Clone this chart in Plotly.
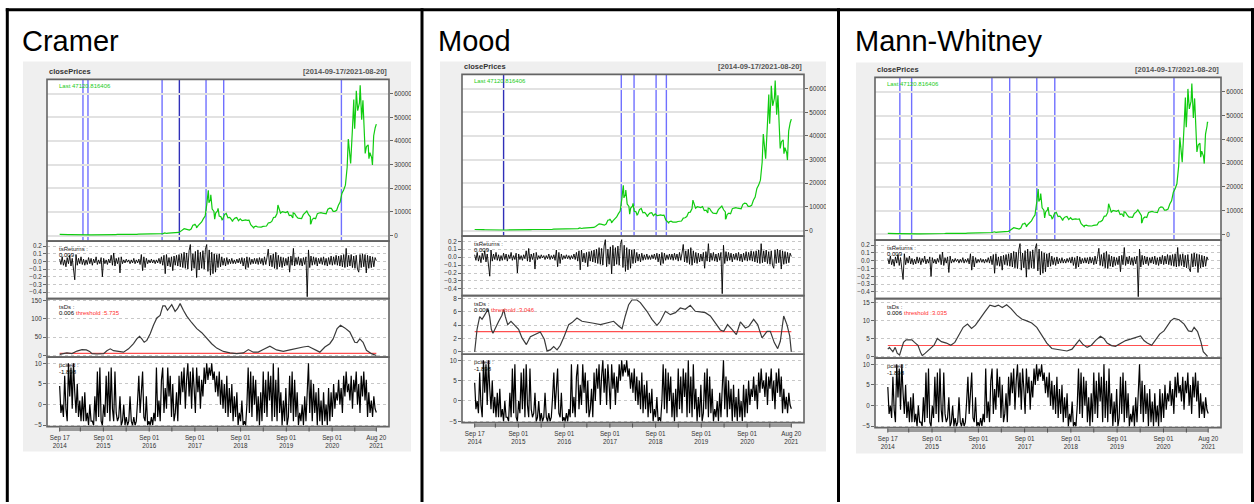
import numpy as np
import pandas as pd
import plotly.graph_objects as go

W, H = 1254, 504
FONT = "Liberation Sans, Arial, sans-serif"

START = pd.Timestamp("2014-09-17")
END = pd.Timestamp("2021-08-20")
SPAN_DAYS = (END - START).days

# ---------------------------------------------------------------- data
# closing price sampled every 14 days from START
price_biweekly = [
    457, 383, 395, 355, 425, 370, 350, 322, 294, 227,
    227, 244, 281, 256, 247, 219, 225, 242, 237, 229,
    243, 269, 277, 281, 226, 229, 229, 236, 253, 304,
    311, 366, 416, 442, 431, 419, 369, 422, 423, 415,
    413, 424, 446, 452, 449, 581, 596, 670, 665, 567,
    574, 574, 610, 605, 637, 678, 722, 740, 767, 828,
    1135, 870, 988, 1010, 1222, 1245, 1043, 1210, 1310, 1760,
    2450, 2860, 2690, 2620, 2280, 2730, 4380, 4580, 3870, 4200,
    4820, 5740, 7140, 8230, 13700, 16600, 15200, 11200, 10200, 9490,
    10330, 8200, 7960, 6850, 8860, 9330, 7500, 7680, 6750, 6640,
    7380, 7600, 6270, 7050, 6300, 6440, 6590, 6410, 6530, 4550,
    3810, 3750, 3940, 3600, 3440, 3570, 3840, 3870, 4040, 5280,
    5430, 5940, 7630, 7790, 9280, 11980, 9420, 10090, 10020, 9720,
    10160, 8430, 8600, 7470, 9340, 8120, 7320, 7280, 7200, 8820,
    9390, 10350, 8790, 7910, 6750, 7360, 7130, 9270, 9520, 9670,
    9450, 9230, 9200, 11110, 11580, 11470, 10240, 10240, 10670, 12820,
    14130, 17820, 19220, 21310, 28860, 37390, 30430, 44880, 49680, 55960,
    52770, 56050, 53800, 57200, 37000, 37580, 38340, 35040, 32820, 39995,
    45590,
]
# turning points between the regular samples
price_extra_dates = [
    "2015-01-14", "2017-09-01", "2017-09-14", "2017-12-17", "2017-12-22",
    "2018-01-06", "2018-02-06", "2018-03-05", "2018-04-06", "2018-06-28",
    "2018-12-15", "2019-06-26", "2019-10-26", "2020-03-12", "2020-03-16",
    "2021-01-08", "2021-01-22", "2021-02-21", "2021-02-28", "2021-03-13",
    "2021-04-13", "2021-04-25", "2021-05-12", "2021-05-23", "2021-06-22",
    "2021-07-20", "2021-07-30", "2021-08-14", "2021-08-20",
]
price_extra_values = [
    178, 4890, 3230, 19140, 13830,
    17170, 6950, 11500, 6630, 5900,
    3240, 12900, 9550, 4970, 5010,
    40800, 30830, 57540, 45140, 61200,
    63500, 49000, 49200, 34700, 32500,
    29800, 42200, 47100, 47120.816406,
]

# returns (percent), evenly spaced over the period
returns_pct = [
    3, -4, 6, -5, 2, -7, 5, -3, 8, -6, 4, -8, -24,
    9, -5, 4, -3, 6, -4, 3, -5, 2, -4, 5, -3, 4,
    -5, 3, -2, 6, -4, 2, -3, 5, -20, 4, -3, 2, -4,
    3, -2, 8, -5, 11, -6, 4, -3, 5, -15, 6, -3, 2,
    -2, 3, -1, 2, -3, 2, -2, 4, -3, 2, -2, 3, -4,
    9, -12, 6, -8, 4, -3, 2, -2, 3, -2, 2, -3, 2,
    -2, 4, -3, 6, -5, 8, -16, 9, -6, 5, -7, 6, -12,
    7, -5, 8, -6, 9, -7, 10, -8, 12, -9, 11, -10, 14,
    22, -12, 10, -9, 13, -21, 15, -11, 12, -9, 14, -10, 16,
    22, -13, 15, -18, 12, -16, 10, -14, 9, -8, 10, -7, 6,
    -5, 4, -6, 5, -4, 3, -3, 4, -3, 2, -3, 3, -2,
    4, -3, 5, -6, 4, -10, 6, -8, 5, -4, 3, -3, 4,
    -3, 4, -4, 5, -3, 4, -5, 6, -4, 5, 16, -6, 8,
    -7, 10, -9, 12, -10, 8, -7, 6, -8, 5, -6, 4, -5,
    6, -14, 7, -5, 17, -6, 5, -4, 6, -5, 4, -6, 5,
    -4, 6, -46, 15, -8, 7, -5, 6, -4, 5, -6, 4, -3,
    5, -4, 6, -5, 4, -6, 5, -4, 7, -5, 6, -4, 8,
    -5, 7, -6, 8, -7, 9, -8, 17, -7, 8, -6, 9, -8,
    7, -9, 8, -10, -14, 9, -8, 10, -7, 9, -15, 8, -9,
    7, -8, 6, -7, 5, 0.9,
]

# first principal component, evenly spaced over the period
pcaed = [
    4.5, -2, 0, -3, 7, -1, -4, 10, 2, 9, -1, 10, 3,
    -2, 5, -3, 1, -4, 2, -4, 3, -4, -2, -5, 0, -4,
    -4, -5, 2, -4, 8, -3, 9, -4, -5, 0, -3, 7,
    -2, 8, -4, 9, -1, -4, 8, -2, -4, -3, 2, -5,
    -4, 0, -5, -3, -5, -4, 2, -4, -5, -3, -5, -4,
    1, 7, -2, 4, 8, -3, -4, 2, -5, -4, -5, -3,
    -5, -2, -4, 9, -3, 1, -4, 6, 9, -2, 4, -1,
    9, 2, 7, -3, 5, -4, -2, 3, -4, 7, 0, 8,
    3, 9, -1, 6, 10, 2, 8, -1, 9, 4, -2, 9,
    3, 7, -1, 6, 2, 9, 5, 10, 6, 9, 7, 10,
    6, 8, 3, 7, 2, 8, 0, 6, -1, 5, -2, 7,
    -3, 4, -2, 5, -4, 2, -3, 3, -5, -2, -4, 1,
    -5, -4, -5, 0, 9, -2, 8, -3, 7, 0, 6, -4,
    2, -5, 3, -4, 8, -2, 6, -3, 8, 1, 7, -4,
    10, -3, 6, -4, 9, -2, 3, -5, 1, -4, 4, -5,
    -3, 7, -2, 8, -4, 6, -3, 3, -5, -2, -4, 0,
    -5, 2, -4, 3, 10, -2, 6, -4, 5, -2, 3, -5,
    4, -4, 1, -5, 3, -4, 0, -5, 4, -4, 3, -3,
    5, -1, 3, 1, 6, 0, 4, -2, 7, 2, 8, 3,
    5, 1, 7, -1, 6, 3, 8, 0, 5, -2, 7, 2,
    8, 1, 6, -3, 3, -2, 1, -3, 2, -1, -1.898,
]

# distance statistic per test: day offset from START and value
cramer_ds_days = [
    0, 58, 98, 138, 178, 213, 239, 258, 298, 351, 377, 404, 430, 470, 510,
    550, 590, 616, 638, 656, 675, 696, 723, 749, 776, 802, 824, 842, 861,
    895, 922, 941, 962, 988, 1015, 1055, 1095, 1135, 1174, 1214, 1254,
    1307, 1360, 1414, 1467, 1507, 1546, 1586, 1626, 1679, 1732, 1786,
    1839, 1892, 1945, 1985, 2025, 2078, 2118, 2157, 2184, 2216, 2243,
    2277, 2317, 2357, 2375, 2397, 2423, 2450, 2490, 2516, 2529,
]
cramer_ds = [
    3, 7, 5, 12, 16, 15, 11, 5, 4, 5, 13, 18, 13, 11, 9,
    18, 32, 45, 52, 45, 36, 41, 59, 82, 102, 109, 135, 135, 123,
    138, 120, 127, 141, 123, 107, 89, 73, 62, 47, 32, 20,
    11, 7, 5, 7, 16, 9, 9, 16, 25, 15, 11,
    15, 20, 23, 25, 18, 9, 23, 32, 45, 73, 82,
    75, 64, 36, 35, 45, 36, 14, 5, 2, 0.006,
]
mood_ds_days = [
    0, 19, 40, 59, 72, 91, 107, 120, 133, 146, 165, 192, 218, 232, 245,
    264, 290, 317, 351, 378, 413, 445, 485, 524, 556, 578, 604, 631, 658,
    684, 716, 751, 777, 817, 857, 897, 950, 1004, 1057, 1110, 1150, 1177,
    1203, 1230, 1256, 1296, 1323, 1376, 1416, 1456, 1483, 1523, 1563,
    1603, 1642, 1682, 1722, 1762, 1802, 1842, 1882, 1922, 1962, 1989,
    2020, 2055, 2090, 2122, 2162, 2188, 2228, 2260, 2295, 2335, 2361,
    2393, 2420, 2441, 2468, 2494, 2516, 2529,
]
mood_ds = [
    0, 3.4, 5.3, 4.9, 5.3, 6.0, 6.4, 5.3, 3.4, 2.8, 3.6, 4.6, 5.5, 6.4, 5.3,
    4.1, 4.6, 4.1, 3.4, 2.1, 1.1, 2.3, 2.6, 3.0, 1.9, 0.15, 0.3, 0.8, 0.3,
    1.0, 2.4, 4.1, 4.4, 5.1, 4.6, 4.5, 4.3, 4.1, 4.4, 4.6, 3.9, 3.5,
    5.4, 7.1, 7.8, 7.8, 7.4, 6.1, 4.9, 4.0, 4.6, 6.1, 5.6,
    5.9, 6.6, 6.4, 7.0, 6.1, 6.0, 5.9, 5.4, 4.4, 3.3, 3.1,
    4.1, 3.4, 2.6, 4.5, 3.6, 3.8, 4.9, 4.1, 2.1, 3.1, 3.1,
    1.4, 0.5, 1.6, 5.4, 4.1, 2.4, 0.006,
]
mw_ds_days = [
    0, 13, 26, 40, 58, 74, 93, 106, 124, 145, 172, 190, 211, 238, 259,
    272, 296, 317, 338, 365, 391, 423, 463, 497, 529, 560, 595, 629, 661,
    692, 727, 766, 806, 846, 872, 904, 938, 973, 1018, 1057, 1097, 1136,
    1176, 1216, 1255, 1295, 1335, 1374, 1414, 1454, 1485, 1512, 1538,
    1573, 1607, 1639, 1678, 1705, 1731, 1766, 1797, 1837, 1877, 1916,
    1956, 1995, 2022, 2048, 2083, 2114, 2146, 2180, 2207, 2233, 2260,
    2299, 2339, 2373, 2400, 2418, 2445, 2471, 2490, 2511, 2524,
]
mw_ds = [
    2.0, 2.5, 1.9, 1.3, 2.5, 0.9, 0.4, 2.0, 3.9, 4.6, 4.5, 4.6, 3.9, 3.1, 1.1,
    0.2, 0.9, 1.6, 2.2, 3.1, 5.0, 4.1, 3.7, 3.1, 3.9, 5.9, 8.1, 9.0, 7.8,
    8.7, 10.6, 12.4, 14.3, 13.9, 14.3, 13.6, 14.4, 13.3, 11.5, 10.4, 9.9, 9.3,
    8.1, 5.9, 3.7, 2.2, 1.9, 1.7, 1.5, 2.0, 3.4, 4.6, 3.4,
    2.5, 3.1, 4.4, 5.6, 5.0, 3.7, 3.0, 2.8, 3.7, 4.4, 4.8,
    5.3, 5.7, 4.4, 3.7, 3.1, 4.8, 6.2, 7.1, 8.5, 9.9, 10.6,
    10.2, 9.0, 7.1, 6.9, 8.1, 6.9, 4.1, 1.3, 0.6, 0.006,
]
thresholds = {"Cramer": 5.735, "Mood": 3.046, "Mann-Whitney": 3.035}

# change points marked on the price panel (regular / emphasised)
cramer_cps = ["2015-03-22", "2015-05-01", "2016-12-13", "2017-11-29", "2018-04-19", "2020-11-14"]
cramer_cps_strong = ["2017-04-30"]
mood_cps = ["2017-12-01", "2018-03-13", "2018-09-05", "2018-11-26"]
mood_cps_strong = ["2015-05-06"]
mw_cps = ["2014-12-21", "2015-03-24", "2016-12-17", "2017-05-06", "2017-12-06", "2018-04-27", "2020-11-23"]
mw_cps_strong = []

tick_dates = ["2014-09-17", "2015-09-01", "2016-09-01", "2017-09-01",
              "2018-09-01", "2019-09-01", "2020-09-01", "2021-08-20"]
tick_labels = ["Sep 17<br>2014", "Sep 01<br>2015", "Sep 01<br>2016", "Sep 01<br>2017",
               "Sep 01<br>2018", "Sep 01<br>2019", "Sep 01<br>2020", "Aug 20<br>2021"]
price_ticks = [0, 10000, 20000, 30000, 40000, 50000, 60000]

# ---------------------------------------------------------------- series
price = pd.concat([
    pd.Series(price_biweekly, index=pd.date_range(START, periods=len(price_biweekly), freq="14D")),
    pd.Series(price_extra_values, index=pd.to_datetime(price_extra_dates)),
]).sort_index()
price = price[~price.index.duplicated(keep="last")]


def grid_dates(n):
    return [START + pd.Timedelta(days=float(d)) for d in np.linspace(0, SPAN_DAYS, n)]


def offset_dates(days):
    return [START + pd.Timedelta(days=float(d)) for d in days]


returns = [v / 100 for v in returns_pct]
ret_dates = grid_dates(len(returns))
pca_dates = grid_dates(len(pcaed))

PAD = pd.Timedelta(days=SPAN_DAYS * 0.04)
X_RANGE = [START - PAD, END + PAD]
p_lo, p_hi = float(price.min()), float(price.max())
P_RANGE = [p_lo - 0.04 * (p_hi - p_lo), p_hi + 0.04 * (p_hi - p_lo)]
RET_RANGE = [-0.485, 0.265]
PCA_RANGE = [-5.32, 11.5]

# ---------------------------------------------------------------- layout geometry (pixels)
COLS = [
    dict(name="Cramer", title_x=20, bg=(23, 60, 411, 453), box=(47, 389),
         rows=(78, 241, 299, 358, 428), clip=(411, 420.5),
         ds=(cramer_ds_days, cramer_ds), ds_range=[-4.6, 154.6], ds_ticks=[0, 50, 100, 150],
         cps=cramer_cps, cps_strong=cramer_cps_strong),
    dict(name="Mood", title_x=436, bg=(440, 60, 826, 453), box=(462, 804),
         rows=(73, 236, 296, 355, 424), clip=(826, 837),
         ds=(mood_ds_days, mood_ds), ds_range=[-0.34, 8.45], ds_ticks=[0, 2, 4, 6, 8],
         cps=mood_cps, cps_strong=mood_cps_strong),
    dict(name="Mann-Whitney", title_x=853, bg=(856, 61, 1243, 455), box=(875, 1221),
         rows=(76, 240, 299, 359, 429), clip=(1243, 1251),
         ds=(mw_ds_days, mw_ds), ds_range=[-0.5, 16.1], ds_ticks=[0, 5, 10, 15],
         cps=mw_cps, cps_strong=mw_cps_strong),
]
BORDER_X = [7.3, 422, 838.5, 1252.5]
BORDER_TOP = 7.7


def fx(px):
    return px / W


def fy(py):
    return 1 - py / H


fig = go.Figure()
layout = {}
shapes_below, shapes_above, annotations = [], [], []

tick_font = dict(family=FONT, size=6.3, color="#333333")
start_str = START.strftime("%Y-%m-%d")

band_ticks = [d for d in pd.date_range("2014-09-01", "2021-09-01", freq="MS")
              if d.month in (3, 9) and START <= d <= END] + [START, END]


def note(text, x, xref, py, size=6, color="#222222", xanchor="left", bold=False, xshift=0):
    annotations.append(dict(text=f"<b>{text}</b>" if bold else text, x=x, xref=xref,
                            y=fy(py), yref="paper", xanchor=xanchor, yanchor="middle",
                            xshift=xshift, showarrow=False,
                            font=dict(family=FONT, size=size, color=color)))


for ci, col in enumerate(COLS):
    x0, x1 = col["box"]
    rows = col["rows"]
    bx0, by0, bx1, by1 = col["bg"]

    shapes_below.append(dict(type="rect", xref="paper", yref="paper", layer="below",
                             x0=fx(bx0), x1=fx(bx1), y0=fy(by1), y1=fy(by0),
                             fillcolor="#efefef", line=dict(width=0)))
    shapes_below.append(dict(type="rect", xref="paper", yref="paper", layer="below",
                             x0=fx(x0), x1=fx(x1), y0=fy(rows[4]), y1=fy(rows[0]),
                             fillcolor="white", line=dict(width=0)))

    axes = []
    for p in range(4):
        k = ci * 4 + p + 1
        xs = "x" if k == 1 else f"x{k}"
        ys = "y" if k == 1 else f"y{k}"
        axes.append((xs, ys))
        xname = "xaxis" if k == 1 else f"xaxis{k}"
        yname = "yaxis" if k == 1 else f"yaxis{k}"
        top, bot = rows[p], rows[p + 1]
        xa = dict(domain=[fx(x0), fx(x1)], anchor=ys, type="date", range=X_RANGE,
                  showgrid=False, zeroline=False, showline=False, ticks="",
                  showticklabels=False, fixedrange=True)
        if p == 3:
            xa.update(showticklabels=True, tickmode="array", tickvals=tick_dates,
                      ticktext=tick_labels, tickfont=tick_font, ticklabelstandoff=6)
        layout[xname] = xa

        ya = dict(domain=[fy(bot), fy(top)], anchor=xs, zeroline=False, showline=False,
                  ticks="outside", ticklen=3, tickwidth=1, tickcolor="#666666",
                  tickfont=tick_font, showgrid=True, fixedrange=True)
        if p == 0:
            ya.update(range=P_RANGE, side="right", tickmode="array", tickvals=price_ticks,
                      ticktext=[str(v) for v in price_ticks],
                      gridcolor="#e2e2e2", gridwidth=1.5)
        elif p == 1:
            ya.update(range=RET_RANGE, tickvals=[0.2, 0.1, 0.0, -0.1, -0.2, -0.3, -0.4],
                      tickformat=".1f", gridcolor="#c8c8c8", griddash="dot", gridwidth=1)
        elif p == 2:
            ya.update(range=col["ds_range"], tickvals=col["ds_ticks"],
                      gridcolor="#c8c8c8", griddash="dot", gridwidth=1)
        else:
            ya.update(range=PCA_RANGE, tickvals=[-5, 0, 5, 10],
                      gridcolor="#c8c8c8", griddash="dot", gridwidth=1)
        layout[yname] = ya

        # panel frame
        shapes_above.append(dict(type="rect", xref="paper", yref="paper", layer="above",
                                 x0=fx(x0), x1=fx(x1), y0=fy(bot), y1=fy(top),
                                 line=dict(color="#646464", width=1.6)))

    # change-point markers on the price panel
    for d in col["cps"] + col["cps_strong"]:
        strong = d in col["cps_strong"]
        shapes_below.append(dict(type="line", xref=axes[0][0], yref="paper", layer="below",
                                 x0=d, x1=d, y0=fy(rows[1]), y1=fy(rows[0]),
                                 line=dict(color="#3030b8" if strong else "#7070ff",
                                           width=1.4)))

    # date band under the bottom panel
    shapes_above.append(dict(type="rect", xref=axes[3][0], yref="paper", layer="above",
                             x0=START, x1=END, y0=fy(rows[4] + 4.5), y1=fy(rows[4] + 0.8),
                             fillcolor="#9a9a9a", line=dict(width=0)))
    for d in band_ticks:
        shapes_above.append(dict(type="line", xref=axes[3][0], yref="paper", layer="above",
                                 x0=d, x1=d, y0=fy(rows[4] + 5), y1=fy(rows[4] + 0.8),
                                 line=dict(color="#505050", width=1)))

    # traces
    fig.add_trace(go.Scatter(x=price.index, y=price.values, mode="lines",
                             line=dict(color="#10cc10", width=1.2),
                             xaxis=axes[0][0], yaxis=axes[0][1], showlegend=False))
    fig.add_trace(go.Scatter(x=ret_dates, y=returns, mode="lines",
                             line=dict(color="black", width=0.9),
                             xaxis=axes[1][0], yaxis=axes[1][1], showlegend=False))
    ds_days, ds_vals = col["ds"]
    thr = thresholds[col["name"]]
    fig.add_trace(go.Scatter(x=[START, END], y=[thr, thr], mode="lines",
                             line=dict(color="#ff5050", width=1.2),
                             xaxis=axes[2][0], yaxis=axes[2][1], showlegend=False))
    fig.add_trace(go.Scatter(x=offset_dates(ds_days), y=ds_vals, mode="lines",
                             line=dict(color="#3a3a3a", width=1.2),
                             xaxis=axes[2][0], yaxis=axes[2][1], showlegend=False))
    fig.add_trace(go.Scatter(x=pca_dates, y=pcaed, mode="lines",
                             line=dict(color="black", width=1.2),
                             xaxis=axes[3][0], yaxis=axes[3][1], showlegend=False))

    # texts
    note(col["name"], fx(col["title_x"]), "paper", 39.5, size=29, color="black")
    note("closePrices", fx(x0), "paper", rows[0] - 8, size=7.5, color="#333333", bold=True)
    note(f"[{START:%Y-%m-%d}/{END:%Y-%m-%d}]", fx(x1), "paper", rows[0] - 8, size=7.5,
         color="#555555", xanchor="right", bold=True)
    note(f"Last {price.iloc[-1]:.6f}", start_str, axes[0][0], rows[0] + 6.5,
         color="#22cc22", xshift=-3)
    note("tsReturns :", start_str, axes[1][0], rows[1] + 7.5, xshift=-3)
    note(f"{returns[-1]:.3f}", start_str, axes[1][0], rows[1] + 14, color="black", xshift=-3)
    note("tsDs :", start_str, axes[2][0], rows[2] + 8, xshift=-3)
    note(f"{ds_vals[-1]:.3f}", start_str, axes[2][0], rows[2] + 14.5, color="black", xshift=-3)
    note(f"threshold :{thr}", start_str, axes[2][0], rows[2] + 14.5, color="#ff3030", xshift=14)
    note("pcaed :", start_str, axes[3][0], rows[3] + 8, xshift=-3)
    note(f"{pcaed[-1]:.3f}", start_str, axes[3][0], rows[3] + 14.5, color="black", xshift=-3)

    # keep the right-hand price labels inside the grey area
    cx0, cx1 = col["clip"]
    shapes_above.append(dict(type="rect", xref="paper", yref="paper", layer="above",
                             x0=fx(cx0), x1=fx(cx1), y0=fy(by1), y1=fy(by0),
                             fillcolor="white", line=dict(width=0)))

# page frame
for bx in BORDER_X:
    shapes_above.append(dict(type="line", xref="paper", yref="paper", layer="above",
                             x0=fx(bx), x1=fx(bx), y0=0, y1=fy(BORDER_TOP - 1.5),
                             line=dict(color="black", width=3)))
shapes_above.append(dict(type="line", xref="paper", yref="paper", layer="above",
                         x0=fx(BORDER_X[0] - 1.5), x1=1, y0=fy(BORDER_TOP), y1=fy(BORDER_TOP),
                         line=dict(color="black", width=3)))

fig.update_layout(
    width=W, height=H, autosize=False,
    margin=dict(l=0, r=0, t=0, b=0, pad=0),
    paper_bgcolor="white", plot_bgcolor="rgba(0,0,0,0)",
    showlegend=False,
    shapes=shapes_below + shapes_above,
    annotations=annotations,
    font=dict(family=FONT),
    **layout,
)

fig.write_html("out.html", config={"displayModeBar": False})
